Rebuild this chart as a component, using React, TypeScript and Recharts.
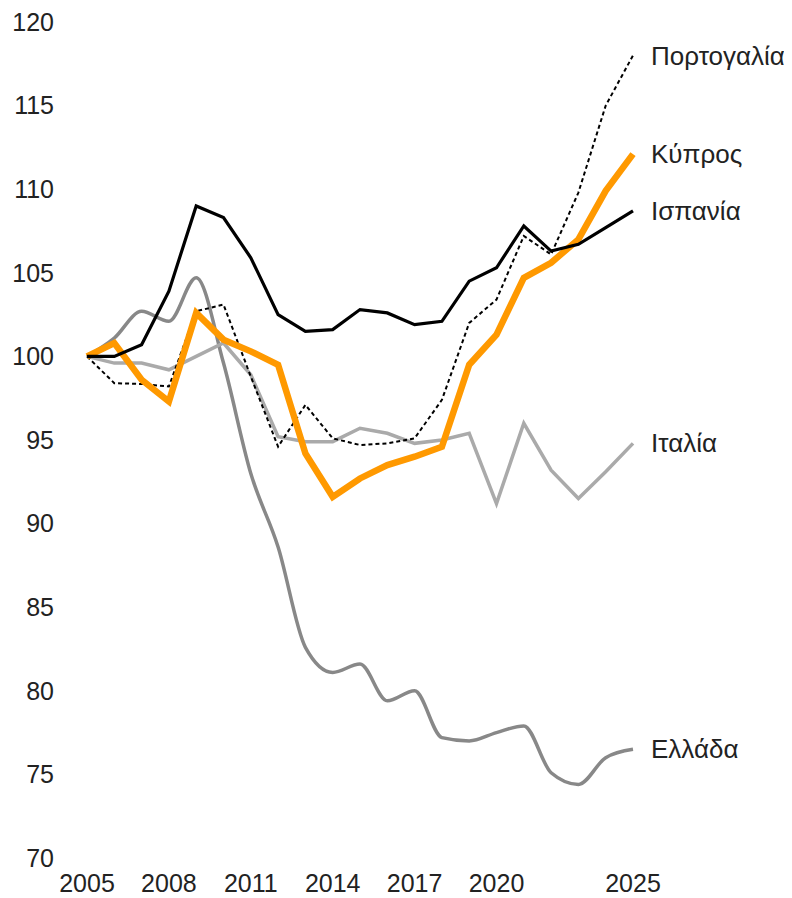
import { LineChart, Line, XAxis, YAxis } from 'recharts'

const years = [
  2005, 2006, 2007, 2008, 2009, 2010, 2011, 2012, 2013, 2014, 2015, 2016, 2017, 2018, 2019, 2020, 2021, 2022, 2023,
  2024, 2025,
]
const portugal = [
  100, 98.4, 98.35, 98.2, 102.7, 103.1, 98.8, 94.6, 97.1, 95.1, 94.7, 94.8, 95.1, 97.4, 102.0, 103.4, 107.2, 106.1,
  109.8, 115.0, 118.0,
]
const cyprus = [
  100, 100.8, 98.6, 97.3, 102.6, 101.0, 100.3, 99.5, 94.2, 91.6, 92.7, 93.5, 94.0, 94.6, 99.5, 101.3, 104.7, 105.6,
  107.0, 109.9, 112.1,
]
const spain = [
  100, 100.0, 100.7, 103.9, 109.0, 108.3, 105.9, 102.5, 101.5, 101.6, 102.8, 102.6, 101.9, 102.1, 104.5, 105.3,
  107.8, 106.3, 106.7, 107.7, 108.7,
]
const italy = [
  100, 99.6, 99.6, 99.2, 100.0, 100.8, 98.9, 95.2, 94.9, 94.9, 95.7, 95.4, 94.8, 95.0, 95.4, 91.2, 96.0, 93.2, 91.5,
  93.1, 94.8,
]
const greece = [
  100, 101.1, 102.7, 102.1, 104.7, 99.6, 93.0, 88.6, 82.6, 81.1, 81.6, 79.4, 80.0, 77.2, 77.0, 77.5, 77.9, 75.1,
  74.4, 76.0, 76.5,
]
const xTicks = [2005, 2008, 2011, 2014, 2017, 2020, 2025]
const yTicks = [70, 75, 80, 85, 90, 95, 100, 105, 110, 115, 120]

const rows = years.map((year, i) => ({
  year,
  portugal: portugal[i],
  cyprus: cyprus[i],
  spain: spain[i],
  italy: italy[i],
  greece: greece[i],
}))

const FONT = '"Liberation Sans", Arial, sans-serif'
const TEXT = '#222222'
const last = years.length - 1

// name next to the last point of each line
function endLabel(name: string) {
  return (props: any) => {
    if (props.index !== last) return <g />
    return (
      <text x={props.x + 18} y={props.y} dy="0.35em" fontSize={26} fontFamily={FONT} fill={TEXT}>
        {name}
      </text>
    )
  }
}

export default function App() {
  return (
    <LineChart width={784} height={890} data={rows} margin={{ top: 14, right: 159, bottom: 0, left: 0 }}>
      <XAxis
        dataKey="year"
        type="number"
        domain={[2005, 2025]}
        ticks={xTicks}
        axisLine={false}
        tickLine={false}
        tickSize={0}
        tickMargin={16}
        height={40}
        interval={0}
        tick={{ fontSize: 25, fill: TEXT, fontFamily: FONT }}
      />
      <YAxis
        type="number"
        domain={[70, 120]}
        ticks={yTicks}
        axisLine={false}
        tickLine={false}
        tickSize={0}
        tickMargin={33}
        width={79}
        interval={0}
        tick={{ fontSize: 25, fill: TEXT, fontFamily: FONT }}
      />
      <Line
        dataKey="greece"
        type="monotone"
        stroke="#888888"
        strokeWidth={3.5}
        dot={false}
        isAnimationActive={false}
        label={endLabel('Ελλάδα')}
      />
      <Line
        dataKey="italy"
        type="linear"
        stroke="#aaaaaa"
        strokeWidth={3.5}
        dot={false}
        isAnimationActive={false}
        label={endLabel('Ιταλία')}
      />
      <Line
        dataKey="portugal"
        type="linear"
        stroke="#000000"
        strokeWidth={2}
        strokeDasharray="4 3"
        dot={false}
        isAnimationActive={false}
        label={endLabel('Πορτογαλία')}
      />
      <Line
        dataKey="cyprus"
        type="linear"
        stroke="#ff9900"
        strokeWidth={6.5}
        dot={false}
        isAnimationActive={false}
        label={endLabel('Κύπρος')}
      />
      <Line
        dataKey="spain"
        type="linear"
        stroke="#000000"
        strokeWidth={3.2}
        dot={false}
        isAnimationActive={false}
        label={endLabel('Ισπανία')}
      />
    </LineChart>
  )
}
